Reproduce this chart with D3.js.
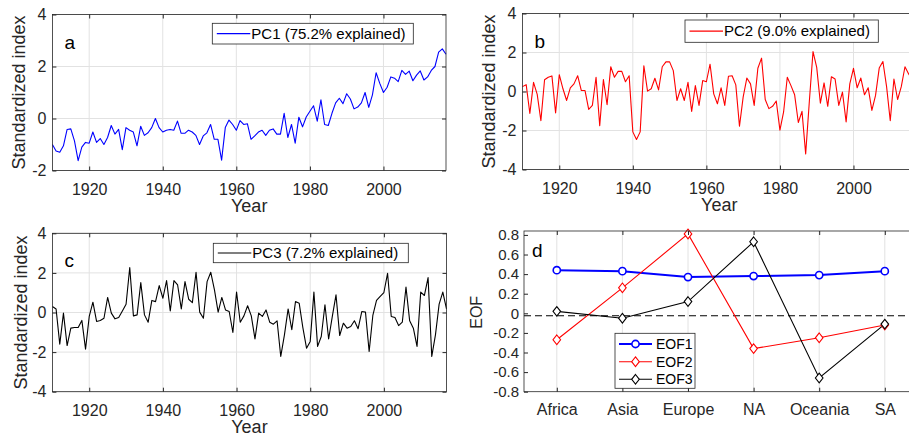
<!DOCTYPE html>
<html>
<head>
<meta charset="utf-8">
<script src="https://d3js.org/d3.v7.min.js"></script>
<style>
  body { margin: 0; background: #fff; }
  svg { display: block; font-family: 'Liberation Sans', Arial, sans-serif; }
  .tick text { fill: #262626; }
</style>
</head>
<body>
<svg id="chart" width="909" height="441"></svg>
<script>
// ---- data ----
const years = d3.range(1910, 2018);
const yearTicks = [1920, 1940, 1960, 1980, 2000];

const pc1 = [-1.0,-1.25,-1.3,-1.05,-0.42,-0.4,-0.86,-1.62,-1.1,-0.92,
  -0.95,-0.52,-0.92,-0.77,-1.0,-0.73,-0.27,-0.6,-0.42,-1.2,
  -0.35,-0.45,-0.52,-1.05,-0.3,-0.65,-0.55,-0.35,0.0,-0.35,
  -0.52,-0.45,-0.42,-0.45,-0.1,-0.57,-0.57,-0.45,-0.52,-0.65,
  -1.0,-0.67,-0.55,-0.23,-0.8,-0.8,-1.6,-0.35,-0.06,-0.23,
  -0.45,-0.08,-0.23,-0.2,-0.8,-0.67,-0.52,-0.45,-0.65,-0.45,
  -0.4,-0.6,-0.6,0.2,-0.73,-0.23,-0.95,0.05,-0.32,0.06,
  0.28,0.49,-0.1,0.72,-0.23,-0.27,0.2,0.6,0.78,0.57,
  0.95,0.75,0.37,0.44,0.6,1.0,0.43,0.91,1.76,1.35,
  1.0,1.2,1.6,1.55,1.42,1.85,1.7,1.82,1.45,1.67,
  1.83,1.48,1.6,1.85,2.0,2.55,2.68,2.47];

const pc2 = [0.25,0.35,-1.13,0.47,-0.15,-1.5,0.6,0.73,0.8,-1.1,
  0.86,0.14,-0.46,0.19,0.39,0.81,0.05,0.05,-0.92,-0.71,
  0.73,-1.76,0.61,-0.68,1.27,0.73,1.03,1.03,0.5,0.81,
  -2.07,-2.46,-2.07,1.32,0.02,0.14,0.68,0.08,1.27,1.52,
  1.52,1.07,-0.46,0.14,-0.46,0.47,-1.02,0.3,-0.71,0.56,
  0.5,1.4,-0.12,-0.63,0.19,-0.71,0.78,0.81,0.34,-1.78,
  -0.29,0.69,0.39,-0.71,1.19,1.71,-0.41,-0.88,-0.76,-0.49,
  -1.98,-1.05,0.73,0.3,-0.17,-1.59,-1.02,-3.2,-0.5,2.05,
  1.24,-0.6,0.44,-0.76,0.76,0.64,-0.71,-0.03,-1.56,0.39,
  1.19,0.19,0.69,-0.17,0.19,-0.97,-0.2,1.2,1.54,0.25,
  -1.5,0.64,-0.41,0.25,1.27,0.9,0.6,0.3];

const pc3 = [0.3,0.18,-1.6,-0.03,-1.67,-0.79,-0.76,-0.76,-0.4,-1.85,
  -0.2,0.52,-0.45,-0.4,-0.29,0.76,-0.03,-0.32,-0.25,0.08,
  0.42,2.27,-0.17,-0.12,1.51,-0.12,-0.49,0.61,0.55,1.36,
  0.72,1.61,0.08,1.61,1.39,0.18,1.56,0.67,0.5,2.03,
  0.02,-0.29,1.56,2.03,1.14,0.02,0.76,0.13,0.05,-1.01,
  1.03,-0.49,-0.17,0.34,-0.17,-1.33,-0.03,-0.2,0.13,-0.49,
  -0.59,-0.42,-2.22,-1.13,0.18,-0.87,0.55,0.47,-0.76,-1.8,
  -1.46,1.03,-1.71,-1.21,0.39,-1.34,-0.2,0.89,-1.16,-0.54,
  -0.79,-0.71,-0.42,-0.82,0.05,0.02,-1.97,-0.15,0.61,0.81,
  1.01,1.98,-0.2,-0.25,-0.66,-0.49,1.28,-0.42,-0.79,-1.71,
  1.03,0.86,1.76,-2.22,-1.13,0.42,1.03,0.18];

const regions = ["Africa", "Asia", "Europe", "NA", "Oceania", "SA"];
const eof1 = [0.44, 0.43, 0.37, 0.38, 0.39, 0.43];
const eof2 = [-0.27, 0.26, 0.81, -0.36, -0.25, -0.12];
const eof3 = [0.02, -0.05, 0.12, 0.73, -0.66, -0.11];
const eofTicks = [-0.8, -0.6, -0.4, -0.2, 0, 0.2, 0.4, 0.6, 0.8];

const axisColor = "#262626";
const gridColor = "#e2e2e2";
const svg = d3.select("#chart");

function styleAxis(g, size) {
  g.select(".domain").remove();
  g.selectAll(".tick line").attr("stroke", axisColor);
  g.selectAll(".tick text").attr("font-size", size);
}

// time-series panels a, b, c
function seriesPanel(p) {
  const x = d3.scaleLinear().domain([1910, 2017]).range([p.x0, p.x1]);
  const y = d3.scaleLinear().domain(p.ydom).range([p.y1, p.y0]);
  const g = svg.append("g");
  const w = p.x1 - p.x0, h = p.y1 - p.y0;

  // grid
  g.append("g").selectAll("line").data(yearTicks).join("line")
    .attr("x1", d => x(d)).attr("x2", d => x(d)).attr("y1", p.y0).attr("y2", p.y1)
    .attr("stroke", gridColor);
  g.append("g").selectAll("line").data(p.yticks).join("line")
    .attr("x1", p.x0).attr("x2", p.x1).attr("y1", d => y(d)).attr("y2", d => y(d))
    .attr("stroke", gridColor);

  // series
  g.append("path").datum(p.data)
    .attr("fill", "none").attr("stroke", p.color).attr("stroke-width", 1.1)
    .attr("stroke-linejoin", "round")
    .attr("d", d3.line().x((d, i) => x(years[i])).y(d => y(d)));

  // box
  g.append("rect").attr("x", p.x0).attr("y", p.y0).attr("width", w).attr("height", h)
    .attr("fill", "none").attr("stroke", axisColor).attr("stroke-width", 0.8);

  // axes (inward ticks)
  g.append("g").attr("transform", `translate(0,${p.y1})`)
    .call(d3.axisBottom(x).tickValues(yearTicks).tickFormat(d3.format("d")).tickSize(-4).tickPadding(13))
    .call(a => styleAxis(a, 16));
  g.append("g").attr("transform", `translate(0,${p.y0})`)
    .call(d3.axisTop(x).tickValues(yearTicks).tickFormat("").tickSize(-4))
    .call(a => styleAxis(a, 16));
  g.append("g").attr("transform", `translate(${p.x0},0)`)
    .call(d3.axisLeft(y).tickValues(p.yticks).tickFormat(d => String(d)).tickSize(-4).tickPadding(6))
    .call(a => styleAxis(a, 16));
  g.append("g").attr("transform", `translate(${p.x1},0)`)
    .call(d3.axisRight(y).tickValues(p.yticks).tickFormat("").tickSize(-4))
    .call(a => styleAxis(a, 16));

  // labels
  g.append("text").attr("x", (p.x0 + 446 - p.x0 + p.x0) / 2 + (p.x1 - 446) / 2).attr("y", p.y1 + 41)
    .attr("text-anchor", "middle").attr("font-size", 18).attr("fill", axisColor).text("Year");
  g.append("text").attr("transform", `translate(${p.ylabX},${(p.y0 + p.y1) / 2}) rotate(-90)`)
    .attr("text-anchor", "middle").attr("font-size", 18).attr("fill", axisColor).text("Standardized index");
  g.append("text").attr("x", p.x0 + 12).attr("y", p.y0 + 34)
    .attr("font-size", 19).attr("fill", "#000").text(p.tag);

  // legend
  const [lx0, ly0, lx1, ly1] = p.leg;
  const lg = g.append("g");
  lg.append("rect").attr("x", lx0).attr("y", ly0).attr("width", lx1 - lx0).attr("height", ly1 - ly0)
    .attr("fill", "#fff").attr("stroke", axisColor).attr("stroke-width", 0.8);
  const cy = (ly0 + ly1) / 2;
  lg.append("line").attr("x1", lx0 + 4.5).attr("x2", lx0 + 38).attr("y1", cy).attr("y2", cy)
    .attr("stroke", p.color).attr("stroke-width", 1.1);
  lg.append("text").attr("x", lx0 + 39).attr("y", cy + 5.3).attr("font-size", 15)
    .attr("fill", "#000").text(p.legend);
}

seriesPanel({ x0: 52.4, x1: 446, y0: 14.5, y1: 170.5, ydom: [-2, 4], yticks: [-2, 0, 2, 4],
  data: pc1, color: "#0000ff", tag: "a", legend: "PC1 (75.2% explained)",
  leg: [212.3, 23.3, 413.3, 44], ylabX: 25 });
seriesPanel({ x0: 522.5, x1: 916, y0: 13.5, y1: 169.5, ydom: [-4, 4], yticks: [-4, -2, 0, 2, 4],
  data: pc2, color: "#ff0000", tag: "b", legend: "PC2 (9.0% explained)",
  leg: [685, 20, 878.3, 42.3], ylabX: 495 });
seriesPanel({ x0: 52.4, x1: 446.5, y0: 233.3, y1: 391.7, ydom: [-4, 4], yticks: [-4, -2, 0, 2, 4],
  data: pc3, color: "#000000", tag: "c", legend: "PC3 (7.2% explained)",
  leg: [213.3, 243.3, 408.3, 262.7], ylabX: 26.5 });

// panel d: EOF loadings
(function () {
  const x0 = 524, x1 = 917.6, y0 = 231, y1 = 391.7;
  const x = d3.scalePoint().domain(regions).range([x0, x1]).padding(0.5);
  const y = d3.scaleLinear().domain([-0.8, 0.84]).range([y1, y0]);
  const g = svg.append("g");

  g.append("g").selectAll("line").data(regions).join("line")
    .attr("x1", d => x(d)).attr("x2", d => x(d)).attr("y1", y0).attr("y2", y1)
    .attr("stroke", gridColor);

  g.append("line").attr("x1", x0).attr("x2", x1).attr("y1", y(-0.025)).attr("y2", y(-0.025))
    .attr("stroke", "#000").attr("stroke-width", 1).attr("stroke-dasharray", "7,4");

  const series = [
    { name: "EOF1", vals: eof1, color: "#0000ff", width: 2, marker: "circle" },
    { name: "EOF2", vals: eof2, color: "#ff0000", width: 1.1, marker: "diamond" },
    { name: "EOF3", vals: eof3, color: "#000000", width: 1.1, marker: "diamond" }
  ];
  const diamond = (cx, cy) => `M${cx},${cy - 4.8}L${cx + 3.8},${cy}L${cx},${cy + 4.8}L${cx - 3.8},${cy}Z`;
  function marker(sel, s, cx, cy) {
    if (s.marker === "circle") {
      sel.append("circle").attr("cx", cx).attr("cy", cy).attr("r", 3.6)
        .attr("fill", "#fff").attr("stroke", s.color).attr("stroke-width", 1.6);
    } else {
      sel.append("path").attr("d", diamond(cx, cy))
        .attr("fill", "#fff").attr("stroke", s.color).attr("stroke-width", 1.1);
    }
  }

  series.forEach(s => {
    g.append("path").datum(s.vals)
      .attr("fill", "none").attr("stroke", s.color).attr("stroke-width", s.width)
      .attr("d", d3.line().x((d, i) => x(regions[i])).y(d => y(d)));
  });
  series.forEach(s => {
    const mg = g.append("g");
    s.vals.forEach((v, i) => marker(mg, s, x(regions[i]), y(v)));
  });

  g.append("rect").attr("x", x0).attr("y", y0).attr("width", x1 - x0).attr("height", y1 - y0)
    .attr("fill", "none").attr("stroke", axisColor).attr("stroke-width", 0.8);

  g.append("g").attr("transform", `translate(0,${y1})`)
    .call(d3.axisBottom(x).tickSize(-4).tickPadding(12))
    .call(a => styleAxis(a, 16));
  g.append("g").attr("transform", `translate(0,${y0})`)
    .call(d3.axisTop(x).tickFormat("").tickSize(-4))
    .call(a => styleAxis(a, 16));
  g.append("g").attr("transform", `translate(${x0},0)`)
    .call(d3.axisLeft(y).tickValues(eofTicks).tickFormat(d => String(+d.toFixed(1))).tickSize(-4).tickPadding(5))
    .call(a => styleAxis(a, 15));
  g.append("g").attr("transform", `translate(${x1},0)`)
    .call(d3.axisRight(y).tickValues(eofTicks).tickFormat("").tickSize(-4))
    .call(a => styleAxis(a, 15));

  g.append("text").attr("transform", `translate(482,${(y0 + y1) / 2 + 1}) rotate(-90)`)
    .attr("text-anchor", "middle").attr("font-size", 16).attr("fill", axisColor).text("EOF");
  g.append("text").attr("x", x0 + 8).attr("y", y0 + 25.5)
    .attr("font-size", 19).attr("fill", "#000").text("d");

  // legend
  const lg = g.append("g");
  lg.append("rect").attr("x", 615).attr("y", 333.3).attr("width", 80).attr("height", 55)
    .attr("fill", "#fff").attr("stroke", axisColor).attr("stroke-width", 0.8);
  const rows = [344, 361.7, 379.3];
  series.forEach((s, i) => {
    lg.append("line").attr("x1", 619).attr("x2", 652).attr("y1", rows[i]).attr("y2", rows[i])
      .attr("stroke", s.color).attr("stroke-width", s.width);
    marker(lg, s, 635.5, rows[i]);
    lg.append("text").attr("x", 656).attr("y", rows[i] + 5).attr("font-size", 14)
      .attr("fill", "#000").text(s.name);
  });
})();
</script>
</body>
</html>
